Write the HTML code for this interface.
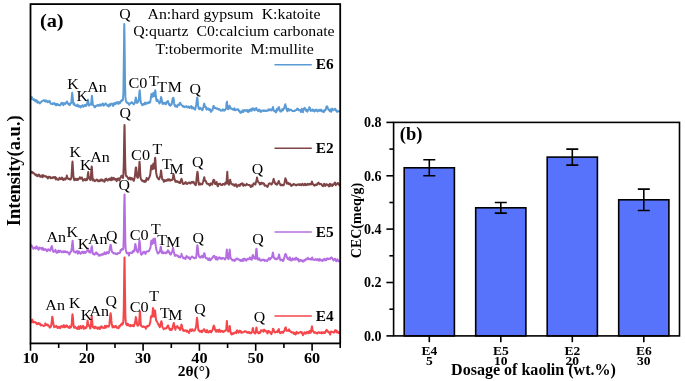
<!DOCTYPE html>
<html><head><meta charset="utf-8"><title>XRD and CEC</title>
<style>
html,body{margin:0;padding:0;background:#fff;}
body{width:685px;height:381px;overflow:hidden;}
svg{display:block;}
text{font-family:"Liberation Serif","Times New Roman",serif;fill:#000;}
.b{font-weight:bold;}
.pk{font-size:14.7px;}
.an{font-size:13.8px;text-anchor:middle;white-space:pre;}
.lg{font-size:13.7px;font-weight:bold;}
.tk{font-size:14.5px;font-weight:bold;text-anchor:middle;}
.tkb{font-size:14px;font-weight:bold;text-anchor:end;}
.cat{font-size:13.5px;font-weight:bold;text-anchor:middle;}
</style></head><body>
<svg width="685" height="381" viewBox="0 0 685 381">
<rect x="0" y="0" width="685" height="381" fill="#fff"/>
<polyline points="30.6,100.0 31.0,98.9 31.4,97.9 31.8,97.1 32.2,98.4 32.6,98.9 33.0,99.1 33.4,99.9 33.8,100.1 34.2,99.4 34.6,99.6 35.0,100.3 35.4,101.4 35.8,101.3 36.2,100.1 36.6,100.3 37.0,101.9 37.4,102.6 37.8,101.7 38.2,101.5 38.6,102.4 39.0,102.2 39.4,102.9 39.8,103.5 40.2,103.0 40.6,102.5 41.0,102.4 41.4,101.6 41.8,101.3 42.2,101.0 42.6,100.9 43.0,100.6 43.4,100.5 43.8,100.2 44.2,100.2 44.3,100.2 44.6,100.8 45.0,101.3 45.4,100.5 45.8,101.6 46.2,101.2 46.6,100.5 47.0,101.2 47.4,101.9 47.8,102.3 48.2,101.5 48.6,101.9 49.0,101.8 49.4,100.8 49.8,101.3 50.2,102.8 50.6,103.5 51.0,103.9 51.4,103.8 51.8,103.7 52.2,103.9 52.6,104.3 53.0,103.4 53.4,103.6 53.8,103.7 54.2,103.1 54.6,104.2 55.0,103.6 55.4,104.2 55.8,105.2 56.2,103.9 56.6,104.1 57.0,105.1 57.4,104.0 57.8,104.1 58.2,104.8 58.6,105.0 59.0,105.0 59.4,105.0 59.8,105.5 60.2,105.4 60.6,104.7 61.0,103.7 61.4,103.1 61.8,102.8 62.2,103.6 62.6,103.1 63.0,104.5 63.4,105.1 63.8,103.5 64.2,103.1 64.6,103.7 65.0,104.2 65.4,103.4 65.8,103.2 66.2,102.4 66.6,102.0 66.8,102.4 67.0,101.5 67.4,102.5 67.8,103.7 68.2,104.0 68.6,103.5 69.0,104.6 69.4,104.9 69.8,104.9 70.2,104.2 70.6,103.0 71.0,103.1 71.4,102.2 71.8,97.4 72.2,92.8 72.3,93.9 72.6,96.3 73.0,100.9 73.4,104.2 73.8,103.1 74.2,103.2 74.6,105.0 75.0,105.2 75.4,105.6 75.8,105.7 76.2,105.6 76.6,105.9 77.0,105.4 77.4,104.6 77.8,105.4 78.2,106.3 78.6,106.8 79.0,105.6 79.4,105.8 79.8,105.9 80.2,106.5 80.6,107.5 81.0,106.8 81.4,106.0 81.8,106.3 82.2,106.3 82.6,105.3 83.0,105.7 83.4,106.8 83.8,106.5 84.2,105.6 84.6,105.2 85.0,105.0 85.4,104.7 85.8,105.9 86.2,105.9 86.6,105.1 87.0,103.7 87.4,101.9 87.8,100.0 87.9,99.7 88.2,100.8 88.6,104.3 89.0,105.6 89.4,105.0 89.8,104.7 90.2,104.5 90.6,104.5 91.0,104.7 91.4,101.5 91.8,97.0 91.9,95.8 92.2,97.8 92.6,102.8 93.0,105.0 93.4,105.5 93.8,105.4 94.2,106.3 94.6,107.3 95.0,107.3 95.4,106.9 95.8,106.0 96.2,105.9 96.6,105.5 97.0,105.8 97.4,105.3 97.8,104.9 98.2,105.1 98.6,105.8 99.0,105.8 99.4,105.3 99.8,104.6 100.2,104.7 100.6,104.5 101.0,105.6 101.4,105.2 101.8,105.0 102.2,104.5 102.6,103.5 103.0,103.6 103.4,104.9 103.8,105.7 104.2,104.5 104.6,104.4 105.0,104.5 105.4,103.6 105.8,103.4 106.2,104.3 106.6,104.7 107.0,105.0 107.4,105.8 107.8,105.2 108.2,105.5 108.6,106.5 109.0,106.1 109.4,104.3 109.8,104.7 110.2,105.5 110.6,104.3 111.0,103.9 111.4,103.7 111.8,103.6 112.2,103.9 112.6,105.0 113.0,105.9 113.4,105.8 113.8,104.3 114.2,103.0 114.6,103.6 115.0,103.9 115.4,104.1 115.8,103.5 116.2,102.6 116.6,103.1 117.0,102.1 117.4,102.6 117.8,103.4 118.2,103.8 118.6,103.7 119.0,101.9 119.4,102.8 119.8,103.2 120.2,102.4 120.6,101.9 121.0,100.8 121.4,101.1 121.6,101.0 121.8,100.0 122.2,100.0 122.6,100.2 123.0,99.3 123.4,92.7 123.8,64.4 124.2,26.8 124.3,24.1 124.6,42.5 125.0,81.2 125.4,96.9 125.8,100.2 126.2,101.5 126.6,102.4 127.0,102.4 127.4,103.0 127.8,103.3 128.2,103.0 128.6,103.5 129.0,104.8 129.4,104.8 129.8,103.4 130.2,103.3 130.6,103.2 131.0,103.1 131.4,103.1 131.8,102.1 131.9,102.4 132.2,102.9 132.6,102.8 133.0,103.3 133.4,104.0 133.8,104.4 134.2,103.8 134.6,103.2 135.0,101.8 135.4,99.6 135.6,98.3 135.8,97.5 136.2,99.3 136.6,102.4 137.0,103.0 137.4,102.2 137.8,102.1 138.2,101.8 138.6,100.3 139.0,97.8 139.4,92.2 139.7,90.3 139.8,91.3 140.2,96.0 140.6,101.1 141.0,103.2 141.4,103.5 141.8,104.1 142.2,105.1 142.6,104.6 143.0,104.9 143.4,104.1 143.8,104.5 144.2,104.3 144.6,103.1 145.0,102.5 145.4,104.2 145.8,103.2 146.2,102.9 146.6,103.5 147.0,103.6 147.4,103.5 147.8,102.8 148.2,102.2 148.6,102.9 149.0,102.3 149.4,102.4 149.8,102.6 150.2,102.1 150.6,99.7 151.0,96.6 151.3,94.8 151.4,93.9 151.8,95.8 152.2,96.9 152.6,96.1 153.0,94.0 153.3,93.0 153.4,94.3 153.8,96.5 154.2,96.2 154.6,94.8 155.0,91.1 155.3,90.4 155.4,91.0 155.8,95.3 156.2,99.2 156.6,101.0 157.0,100.6 157.4,99.7 157.8,100.5 158.2,101.4 158.6,101.8 159.0,102.2 159.4,103.5 159.8,102.9 160.2,102.1 160.6,99.7 161.0,98.3 161.1,97.1 161.4,98.2 161.8,100.1 162.2,102.8 162.6,104.0 163.0,102.6 163.4,102.7 163.8,103.5 164.2,103.2 164.6,102.8 165.0,103.9 165.4,104.0 165.8,104.3 166.2,103.4 166.6,102.1 167.0,102.1 167.4,102.3 167.8,100.9 168.2,101.6 168.6,103.4 169.0,104.7 169.4,104.6 169.8,104.2 170.2,105.8 170.6,105.3 171.0,105.0 171.4,104.8 171.8,103.6 172.2,101.2 172.6,99.0 173.0,97.9 173.4,97.8 173.8,100.1 174.2,103.7 174.6,105.3 175.0,106.1 175.4,106.5 175.8,105.4 176.2,105.7 176.6,106.4 177.0,106.9 177.4,106.6 177.8,105.2 178.2,104.6 178.6,104.7 179.0,104.4 179.4,104.9 179.8,103.7 180.2,102.7 180.3,102.8 180.6,104.1 181.0,104.4 181.4,104.6 181.8,105.4 182.2,105.6 182.6,106.2 183.0,106.7 183.4,106.1 183.8,106.4 184.2,106.8 184.6,107.2 185.0,107.0 185.4,106.5 185.8,106.2 186.2,106.5 186.6,106.3 187.0,107.2 187.4,107.4 187.8,107.4 188.2,106.8 188.6,106.5 189.0,106.9 189.4,108.0 189.8,107.7 190.2,107.1 190.6,106.6 191.0,106.8 191.4,106.1 191.8,108.3 192.2,108.5 192.6,108.0 193.0,107.3 193.4,107.6 193.8,108.7 194.2,108.7 194.6,109.2 195.0,109.7 195.4,108.8 195.8,106.6 196.2,104.9 196.6,102.0 197.0,98.8 197.2,97.5 197.4,98.1 197.8,102.2 198.2,105.9 198.6,108.2 199.0,108.9 199.4,109.3 199.8,107.7 200.2,107.7 200.6,108.8 201.0,108.7 201.4,108.5 201.8,109.6 202.2,110.2 202.6,109.9 203.0,108.4 203.4,106.9 203.8,104.9 204.2,103.6 204.6,105.0 205.0,106.3 205.4,107.2 205.8,106.8 206.2,108.6 206.6,109.7 207.0,109.2 207.4,109.2 207.8,108.3 208.2,108.5 208.6,108.7 209.0,109.9 209.4,110.2 209.8,109.2 210.2,109.3 210.6,110.4 211.0,111.9 211.4,111.0 211.8,110.6 212.2,110.5 212.6,109.7 213.0,108.0 213.4,106.0 213.8,105.9 214.2,107.6 214.6,108.0 215.0,107.9 215.4,107.7 215.8,108.5 216.2,108.6 216.6,108.5 217.0,109.0 217.4,108.4 217.8,108.6 218.2,109.4 218.6,109.5 219.0,109.8 219.4,109.3 219.8,109.2 220.2,109.9 220.6,110.3 221.0,110.8 221.4,110.5 221.8,110.2 222.2,110.5 222.6,110.3 223.0,109.4 223.4,109.6 223.8,110.0 224.2,110.6 224.6,110.1 225.0,110.1 225.4,109.1 225.8,109.0 226.2,107.4 226.6,103.2 226.8,102.4 227.0,101.8 227.4,106.3 227.8,109.1 228.2,109.2 228.6,108.6 229.0,108.2 229.4,105.7 229.7,106.1 229.8,106.6 230.2,108.2 230.6,108.6 231.0,108.2 231.4,108.4 231.8,108.7 232.2,109.2 232.6,109.0 233.0,109.3 233.4,109.8 233.8,109.9 234.2,108.3 234.6,109.0 235.0,110.2 235.4,110.2 235.8,109.5 236.2,109.5 236.6,109.7 237.0,109.8 237.4,109.4 237.8,109.2 238.2,109.2 238.6,110.2 239.0,111.2 239.4,110.7 239.8,111.8 240.2,112.6 240.6,112.2 241.0,112.7 241.4,111.9 241.8,112.1 242.2,111.1 242.6,110.2 243.0,111.3 243.4,112.0 243.8,110.9 244.2,110.7 244.6,109.9 245.0,109.9 245.4,110.6 245.8,110.6 246.2,111.1 246.6,111.3 247.0,109.9 247.4,109.9 247.8,111.0 248.2,112.1 248.6,110.7 249.0,110.1 249.4,110.8 249.8,111.3 250.2,109.7 250.6,109.2 251.0,109.5 251.4,110.3 251.8,110.7 252.2,108.7 252.6,108.2 253.0,109.5 253.4,109.7 253.8,108.4 254.2,109.3 254.6,110.4 255.0,109.9 255.4,109.7 255.8,108.8 256.2,108.1 256.3,108.0 256.6,108.6 257.0,110.0 257.4,110.1 257.8,110.6 258.2,111.1 258.6,110.2 259.0,109.8 259.4,109.5 259.8,110.0 260.2,111.6 260.6,111.6 261.0,111.9 261.4,111.4 261.8,110.6 262.2,110.4 262.6,110.6 263.0,110.7 263.4,110.9 263.8,110.2 264.2,110.6 264.6,110.9 265.0,110.5 265.4,110.5 265.8,111.1 266.2,111.1 266.6,110.7 267.0,110.5 267.4,110.4 267.8,110.8 268.2,110.1 268.6,109.2 269.0,109.7 269.4,110.3 269.8,109.9 270.2,109.3 270.6,110.0 271.0,110.2 271.4,110.4 271.8,110.4 272.2,109.1 272.6,108.0 273.0,107.0 273.1,107.9 273.4,108.9 273.8,110.1 274.2,111.0 274.6,110.8 275.0,111.2 275.4,111.0 275.8,112.5 276.2,111.9 276.6,109.5 277.0,108.8 277.4,110.5 277.8,109.8 278.2,109.0 278.6,107.2 278.9,107.1 279.0,107.4 279.4,108.9 279.8,110.2 280.2,111.3 280.6,110.9 281.0,111.6 281.4,111.2 281.8,110.8 282.2,109.3 282.6,109.2 283.0,110.3 283.4,109.3 283.8,108.9 284.2,108.0 284.6,106.6 285.0,105.4 285.3,104.2 285.4,104.6 285.8,106.7 286.2,107.8 286.6,109.5 287.0,110.5 287.4,111.1 287.8,110.2 288.2,108.7 288.6,109.0 289.0,109.7 289.4,110.5 289.8,110.1 290.2,109.5 290.6,109.8 291.0,109.7 291.4,110.2 291.8,110.5 292.2,111.0 292.6,111.0 293.0,111.2 293.4,110.9 293.8,111.0 294.2,110.8 294.6,111.0 295.0,110.7 295.4,110.3 295.8,109.9 296.2,110.0 296.6,109.8 297.0,108.8 297.4,109.7 297.8,108.6 298.2,109.2 298.6,109.8 299.0,110.4 299.4,110.3 299.8,110.0 300.2,110.3 300.6,111.2 301.0,111.9 301.4,110.4 301.8,108.7 302.2,109.5 302.6,111.1 303.0,112.2 303.4,109.8 303.8,108.6 304.2,108.5 304.3,108.1 304.6,107.8 305.0,109.3 305.4,109.1 305.8,110.0 306.2,110.9 306.6,109.8 307.0,110.5 307.4,111.7 307.8,110.7 308.2,109.6 308.6,109.3 309.0,108.8 309.3,107.3 309.4,107.2 309.8,107.7 310.2,109.2 310.6,111.0 311.0,110.7 311.4,110.3 311.8,110.4 312.2,109.7 312.6,109.5 313.0,110.9 313.4,110.8 313.8,109.9 314.2,110.8 314.6,111.5 315.0,111.1 315.4,110.5 315.8,109.7 316.2,109.7 316.6,109.6 317.0,110.9 317.4,111.1 317.8,111.4 318.2,110.7 318.6,110.7 319.0,109.7 319.4,110.1 319.8,110.8 320.2,110.7 320.6,110.0 321.0,109.5 321.4,111.0 321.8,111.3 322.2,111.5 322.6,111.4 323.0,110.6 323.4,111.3 323.8,112.1 324.2,110.5 324.6,110.1 325.0,109.9 325.4,110.4 325.8,109.0 326.2,107.5 326.3,107.3 326.6,106.7 327.0,106.3 327.4,106.7 327.8,108.3 328.2,109.1 328.6,109.8 329.0,109.8 329.4,110.6 329.8,111.3 330.2,109.6 330.6,109.3 331.0,111.0 331.4,111.6 331.8,109.5 332.2,108.6 332.6,109.3 333.0,109.8 333.4,110.1 333.8,109.4 334.2,109.5 334.6,109.5 335.0,108.7 335.4,109.0 335.8,110.5 336.2,110.8 336.6,110.6 337.0,111.8 337.4,111.9 337.8,111.4 338.2,111.3 338.6,111.2 339.0,111.3 339.4,111.2 339.8,110.6" fill="none" stroke="#5B9BD5" stroke-width="2" stroke-linejoin="round"/>
<polyline points="30.6,172.0 31.0,171.6 31.4,172.7 31.8,172.5 32.2,172.0 32.6,172.2 33.0,173.1 33.4,172.8 33.8,173.5 34.2,173.5 34.6,173.9 35.0,174.3 35.4,175.1 35.8,175.2 36.2,174.6 36.6,175.6 37.0,175.9 37.4,176.2 37.8,175.9 38.2,174.9 38.6,175.8 39.0,174.6 39.4,174.9 39.8,176.1 40.2,176.8 40.6,176.8 41.0,176.6 41.4,176.4 41.8,175.6 42.2,176.5 42.6,177.3 43.0,175.0 43.4,175.5 43.8,175.9 44.2,175.7 44.6,176.1 45.0,176.4 45.4,176.4 45.8,176.4 46.2,176.3 46.6,177.1 47.0,176.7 47.4,177.0 47.8,178.6 48.2,177.7 48.6,177.0 49.0,176.6 49.4,177.5 49.8,177.0 50.2,177.2 50.6,178.2 51.0,178.1 51.4,177.5 51.8,178.1 52.2,178.2 52.6,177.7 53.0,177.3 53.4,177.6 53.8,177.0 54.2,177.8 54.6,177.8 55.0,177.0 55.4,177.8 55.8,179.4 56.2,177.8 56.6,178.3 57.0,178.9 57.4,179.4 57.8,179.6 58.2,179.9 58.6,179.7 59.0,178.8 59.4,177.8 59.8,178.3 60.2,179.0 60.6,179.2 61.0,179.2 61.4,178.2 61.8,177.5 62.2,177.9 62.6,178.9 63.0,179.7 63.4,180.0 63.8,179.6 64.2,178.5 64.6,178.8 65.0,179.6 65.4,179.6 65.8,179.1 66.2,177.7 66.6,177.1 66.8,175.5 67.0,176.4 67.4,177.6 67.8,178.1 68.2,178.9 68.6,178.7 69.0,178.9 69.4,179.2 69.8,178.9 70.2,179.6 70.6,178.9 71.0,178.9 71.4,177.3 71.8,172.2 72.2,164.6 72.5,161.6 72.6,162.2 73.0,169.9 73.4,175.4 73.8,178.5 74.2,180.1 74.6,180.3 75.0,180.0 75.4,178.7 75.8,179.0 76.2,179.6 76.6,179.9 77.0,178.8 77.4,179.1 77.8,180.0 78.2,179.4 78.6,178.8 79.0,178.7 79.4,178.8 79.8,177.3 80.2,177.4 80.6,178.0 81.0,178.6 81.4,178.3 81.8,177.5 82.2,178.4 82.6,179.2 83.0,180.8 83.4,180.0 83.8,179.9 84.2,179.3 84.6,179.1 85.0,179.2 85.4,180.3 85.8,180.4 86.2,179.1 86.6,179.7 87.0,180.0 87.4,178.6 87.8,174.5 88.1,173.1 88.2,172.1 88.6,175.4 89.0,177.6 89.4,178.4 89.8,179.4 90.2,179.8 90.6,180.0 91.0,175.4 91.4,168.4 91.7,166.5 91.8,166.6 92.2,172.6 92.6,178.8 93.0,180.4 93.4,179.2 93.8,179.7 94.2,180.7 94.6,180.4 95.0,181.2 95.4,180.7 95.8,180.6 96.2,180.3 96.6,179.6 97.0,179.9 97.4,179.8 97.8,180.3 98.2,181.3 98.6,181.1 99.0,180.5 99.4,180.7 99.8,181.2 100.2,180.2 100.6,179.8 101.0,180.2 101.4,179.4 101.8,179.5 102.2,180.9 102.6,180.0 103.0,180.3 103.4,180.6 103.8,180.6 104.2,181.8 104.6,181.8 105.0,180.2 105.4,178.9 105.8,179.1 106.2,178.5 106.6,179.7 107.0,180.3 107.4,180.2 107.8,180.6 108.2,179.9 108.6,179.0 109.0,179.4 109.4,179.8 109.8,178.5 110.2,178.9 110.6,179.2 111.0,180.3 111.4,178.3 111.8,177.6 112.2,179.5 112.6,179.8 113.0,178.7 113.4,178.4 113.8,177.9 114.2,178.7 114.6,179.5 115.0,179.4 115.4,179.0 115.8,179.0 116.2,180.3 116.6,181.1 117.0,180.4 117.4,178.7 117.8,178.7 118.2,178.4 118.6,178.5 119.0,179.5 119.4,180.6 119.8,179.2 120.2,178.0 120.6,177.4 121.0,177.0 121.4,175.8 121.6,176.8 121.8,176.9 122.2,176.3 122.6,177.8 123.0,177.9 123.4,174.2 123.8,163.8 124.2,137.6 124.5,125.0 124.6,127.5 125.0,152.1 125.4,169.4 125.8,174.4 126.2,176.3 126.6,176.1 127.0,176.3 127.4,177.2 127.8,177.6 128.2,178.7 128.6,179.3 129.0,178.1 129.4,178.6 129.8,177.5 130.2,178.1 130.6,179.4 131.0,179.6 131.4,177.9 131.8,178.9 132.2,178.6 132.6,178.5 133.0,179.3 133.4,180.5 133.8,180.9 134.2,179.4 134.6,177.8 135.0,175.6 135.4,171.0 135.8,167.4 136.0,167.9 136.2,167.6 136.6,171.8 137.0,176.2 137.4,177.8 137.8,177.8 138.2,177.1 138.6,175.0 139.0,169.6 139.4,162.7 139.5,161.7 139.8,164.5 140.2,173.0 140.6,178.0 141.0,179.1 141.4,179.6 141.8,180.7 142.2,180.6 142.6,180.6 143.0,181.2 143.4,181.1 143.8,180.9 144.2,182.0 144.6,181.5 145.0,180.9 145.4,181.4 145.8,181.7 146.2,180.1 146.6,178.1 147.0,178.4 147.4,179.3 147.8,179.6 148.2,179.8 148.6,178.7 149.0,177.6 149.4,177.2 149.8,176.0 150.2,174.9 150.6,171.4 151.0,167.9 151.3,165.5 151.4,165.5 151.8,167.7 152.2,169.3 152.6,169.1 153.0,165.5 153.3,163.7 153.4,164.0 153.8,167.7 154.2,168.4 154.6,164.1 155.0,158.8 155.2,157.8 155.4,160.0 155.8,167.4 156.2,172.9 156.6,175.1 157.0,176.7 157.4,177.6 157.8,178.1 158.2,178.5 158.6,179.1 159.0,179.4 159.4,178.5 159.8,176.9 160.2,176.5 160.6,174.6 161.0,170.4 161.1,170.8 161.4,172.6 161.8,177.0 162.2,179.1 162.6,179.6 163.0,179.7 163.4,179.7 163.8,181.8 164.2,181.5 164.6,180.3 165.0,180.4 165.4,180.9 165.8,180.3 166.2,180.1 166.6,180.8 167.0,180.3 167.4,180.0 167.8,179.8 167.9,179.2 168.2,180.3 168.6,180.4 169.0,179.2 169.4,179.2 169.8,180.3 170.2,180.6 170.6,180.1 171.0,180.2 171.4,180.2 171.8,180.0 172.2,180.0 172.6,179.4 173.0,176.9 173.4,173.9 173.8,175.1 174.2,177.4 174.6,179.2 175.0,180.3 175.4,181.7 175.8,181.6 176.2,181.1 176.6,181.8 177.0,181.2 177.4,181.7 177.8,182.2 178.2,181.7 178.6,181.7 179.0,182.5 179.4,182.9 179.8,182.6 180.2,183.0 180.6,181.6 181.0,179.6 181.4,179.1 181.5,178.9 181.8,179.7 182.2,181.2 182.6,182.7 183.0,184.0 183.4,183.9 183.8,184.0 184.2,183.5 184.6,182.8 185.0,183.4 185.4,183.3 185.8,182.1 186.2,183.3 186.6,183.9 187.0,184.0 187.4,183.7 187.8,183.6 188.2,182.9 188.6,182.6 189.0,182.8 189.4,182.5 189.8,183.2 190.2,182.7 190.6,183.4 191.0,182.7 191.4,182.1 191.8,182.0 192.2,182.5 192.6,182.7 193.0,181.7 193.4,181.7 193.8,182.7 194.2,182.7 194.6,184.1 195.0,184.6 195.4,184.3 195.8,185.2 196.2,182.2 196.6,178.1 197.0,174.9 197.4,171.7 197.8,173.5 198.2,178.7 198.6,183.2 199.0,184.8 199.4,184.1 199.8,183.3 200.2,183.7 200.6,184.5 201.0,184.2 201.4,184.1 201.8,184.2 202.2,184.3 202.6,183.1 203.0,182.0 203.4,180.4 203.8,179.4 204.2,177.3 204.4,177.5 204.6,178.4 205.0,180.0 205.4,181.2 205.8,181.0 206.2,182.2 206.6,183.2 207.0,183.6 207.4,183.8 207.8,183.6 208.2,184.2 208.6,183.9 209.0,184.1 209.4,185.2 209.8,185.6 210.2,184.9 210.6,183.5 211.0,183.4 211.4,183.4 211.8,183.9 212.2,184.6 212.6,183.4 213.0,181.0 213.4,180.2 213.8,179.7 214.2,180.0 214.6,181.8 215.0,183.9 215.4,184.1 215.8,184.0 216.2,183.3 216.6,182.0 217.0,183.8 217.4,185.4 217.8,186.3 218.2,186.0 218.6,184.0 219.0,183.8 219.4,183.9 219.8,184.0 220.2,183.6 220.6,184.3 221.0,184.9 221.4,184.9 221.8,184.9 222.2,185.0 222.6,184.2 223.0,183.9 223.4,184.0 223.8,184.0 224.2,184.5 224.6,184.8 225.0,183.9 225.4,182.6 225.8,182.7 226.2,183.6 226.6,181.7 227.0,175.6 227.3,171.8 227.4,174.1 227.8,180.8 228.2,183.5 228.6,184.3 229.0,184.7 229.4,182.7 229.8,180.3 230.1,180.2 230.2,179.7 230.6,182.1 231.0,183.4 231.4,183.7 231.8,183.8 232.2,184.6 232.6,184.7 233.0,184.5 233.4,184.3 233.8,184.6 234.2,185.6 234.6,185.9 235.0,185.5 235.4,184.4 235.8,184.6 236.2,184.3 236.6,186.1 237.0,186.9 237.4,186.5 237.8,185.8 238.2,185.5 238.6,184.9 239.0,184.7 239.4,185.7 239.8,185.9 240.2,184.8 240.6,184.0 241.0,184.3 241.4,184.5 241.8,184.0 242.2,183.2 242.6,183.5 243.0,185.1 243.4,185.9 243.8,184.4 244.2,184.6 244.6,184.8 245.0,185.0 245.4,185.1 245.8,185.4 246.2,184.6 246.6,183.9 247.0,184.2 247.4,184.5 247.8,184.9 248.2,185.0 248.6,185.1 249.0,184.9 249.4,184.9 249.8,185.2 250.2,185.9 250.6,186.9 251.0,186.9 251.4,185.6 251.8,185.3 252.2,185.8 252.6,186.2 253.0,184.8 253.4,184.1 253.8,183.2 254.2,184.0 254.6,183.9 255.0,184.3 255.4,184.5 255.8,182.8 256.2,181.4 256.6,180.3 257.0,177.5 257.1,177.9 257.4,179.7 257.8,181.2 258.2,182.0 258.6,182.5 259.0,182.4 259.4,183.3 259.8,184.5 260.2,183.5 260.6,183.0 261.0,184.1 261.4,183.9 261.8,182.6 262.2,183.2 262.6,183.5 263.0,183.7 263.4,183.3 263.8,183.2 264.2,183.8 264.6,185.7 265.0,185.6 265.4,185.5 265.8,185.6 266.2,185.5 266.6,186.0 267.0,186.2 267.4,186.9 267.8,186.3 268.2,185.7 268.6,183.9 269.0,183.8 269.4,183.7 269.8,183.2 270.2,183.6 270.6,183.7 271.0,183.6 271.4,184.5 271.8,184.1 272.2,183.7 272.6,182.6 273.0,181.5 273.4,179.4 273.7,178.9 273.8,180.0 274.2,181.3 274.6,182.0 275.0,182.9 275.4,183.9 275.8,183.3 276.2,183.6 276.6,184.7 277.0,184.7 277.4,183.8 277.8,183.3 278.2,182.5 278.6,181.1 278.9,181.0 279.0,181.9 279.4,182.8 279.8,183.8 280.2,184.5 280.6,185.2 281.0,184.9 281.4,185.1 281.8,184.5 282.2,185.0 282.6,185.4 283.0,185.1 283.4,185.3 283.8,184.8 284.2,183.8 284.6,182.6 285.0,180.2 285.4,178.2 285.5,178.4 285.8,179.1 286.2,179.9 286.6,181.7 287.0,183.7 287.4,183.5 287.8,183.2 288.2,182.7 288.6,183.8 289.0,184.2 289.4,183.7 289.8,184.1 290.2,183.7 290.6,184.3 291.0,185.6 291.4,185.9 291.8,185.2 292.2,185.3 292.6,184.8 293.0,184.9 293.4,184.0 293.8,184.7 294.2,184.6 294.6,184.2 295.0,184.6 295.4,184.8 295.8,185.2 296.2,185.5 296.6,184.8 297.0,184.6 297.4,184.9 297.8,184.8 298.2,184.6 298.6,184.2 299.0,184.8 299.4,184.3 299.8,185.0 300.2,185.0 300.6,184.2 301.0,184.9 301.4,185.3 301.8,184.5 302.2,184.2 302.6,183.9 303.0,184.6 303.4,184.8 303.8,185.3 304.2,185.0 304.6,184.1 305.0,183.7 305.4,184.8 305.8,185.1 306.2,184.5 306.6,185.0 307.0,184.8 307.4,184.1 307.8,183.8 308.2,184.4 308.6,184.8 309.0,184.0 309.4,184.1 309.8,184.2 310.2,183.8 310.6,183.7 311.0,184.4 311.4,184.1 311.8,182.3 312.0,181.6 312.2,182.4 312.6,183.5 313.0,184.4 313.4,184.5 313.8,185.3 314.2,185.2 314.6,185.7 315.0,185.1 315.4,184.5 315.8,184.6 316.2,185.0 316.6,185.1 317.0,184.8 317.4,183.4 317.8,183.3 318.2,183.3 318.6,182.6 319.0,183.5 319.4,184.3 319.8,184.0 320.2,184.1 320.6,184.1 321.0,184.1 321.4,184.1 321.8,185.3 322.2,185.5 322.6,185.5 323.0,186.3 323.4,185.7 323.8,184.7 324.2,183.7 324.6,184.3 325.0,185.7 325.4,186.0 325.8,184.8 326.2,184.8 326.3,184.2 326.6,184.2 327.0,184.4 327.4,184.8 327.8,185.2 328.2,185.5 328.6,185.2 329.0,186.4 329.4,185.7 329.8,183.7 330.2,184.0 330.6,185.7 331.0,184.6 331.4,184.5 331.8,184.7 332.2,186.0 332.6,184.5 333.0,185.3 333.4,184.9 333.8,184.0 334.2,183.6 334.6,182.9 335.0,182.5 335.4,184.2 335.8,185.2 336.2,184.2 336.6,184.3 337.0,184.3 337.4,183.1 337.8,183.0 338.2,183.1 338.6,184.1 339.0,184.1 339.4,185.4 339.8,185.4" fill="none" stroke="#7F4446" stroke-width="2" stroke-linejoin="round"/>
<polyline points="30.6,246.1 31.0,245.2 31.4,245.3 31.8,246.1 32.2,246.8 32.6,247.3 33.0,247.7 33.4,248.8 33.8,248.1 34.2,248.0 34.6,247.7 35.0,247.5 35.4,248.1 35.8,248.6 36.2,247.2 36.6,246.3 37.0,247.4 37.4,248.5 37.8,248.1 38.2,248.9 38.6,249.8 39.0,248.9 39.4,247.5 39.8,248.3 40.2,248.3 40.6,248.2 41.0,248.0 41.4,248.9 41.8,249.4 42.2,248.5 42.6,247.7 43.0,248.4 43.4,250.1 43.8,249.5 44.2,249.1 44.6,249.8 45.0,249.4 45.4,249.2 45.8,249.3 46.2,250.1 46.6,250.6 47.0,251.2 47.4,250.4 47.8,249.6 48.2,249.4 48.6,250.1 49.0,249.7 49.4,249.8 49.8,250.1 50.2,250.8 50.6,249.3 51.0,248.0 51.4,247.3 51.8,246.0 51.9,246.1 52.2,247.5 52.6,249.5 53.0,251.0 53.4,251.9 53.8,251.2 54.2,251.6 54.6,251.2 55.0,251.0 55.4,249.8 55.8,250.9 56.2,252.3 56.6,252.7 57.0,251.8 57.4,251.2 57.8,252.4 58.2,252.4 58.6,250.6 59.0,251.2 59.4,251.9 59.8,251.5 60.2,250.7 60.6,251.4 61.0,251.6 61.4,251.5 61.8,252.2 62.2,252.1 62.6,251.6 63.0,252.0 63.4,251.4 63.8,252.2 64.2,251.4 64.6,251.9 65.0,251.2 65.4,252.0 65.8,252.3 66.2,251.9 66.6,252.2 67.0,251.7 67.4,251.9 67.8,252.5 68.2,252.8 68.6,253.0 69.0,253.6 69.4,254.5 69.8,253.4 70.2,252.3 70.6,251.9 71.0,251.6 71.4,250.6 71.8,247.7 72.2,244.1 72.5,241.5 72.6,240.7 73.0,245.0 73.4,250.2 73.8,251.8 74.2,251.5 74.6,251.4 75.0,251.8 75.4,252.6 75.8,252.2 76.2,251.7 76.6,252.2 77.0,251.0 77.4,252.0 77.8,253.7 78.2,253.0 78.6,251.2 79.0,251.5 79.4,252.1 79.8,253.2 80.2,253.4 80.6,253.8 81.0,253.5 81.4,252.9 81.8,251.9 82.2,251.8 82.6,251.7 83.0,251.7 83.4,253.2 83.8,252.7 84.2,251.7 84.6,252.7 85.0,252.6 85.4,253.0 85.8,252.4 86.2,251.8 86.6,251.5 87.0,251.0 87.4,250.0 87.8,248.4 87.9,249.1 88.2,249.5 88.6,251.2 89.0,252.0 89.4,251.1 89.8,251.4 90.2,252.8 90.6,251.2 91.0,250.0 91.4,248.0 91.7,246.7 91.8,246.2 92.2,249.1 92.6,253.0 93.0,253.9 93.4,253.4 93.8,253.5 94.2,254.3 94.6,254.6 95.0,253.8 95.4,253.7 95.8,253.4 96.2,252.4 96.6,253.9 97.0,253.1 97.4,253.4 97.8,254.1 98.2,254.2 98.6,255.3 99.0,255.8 99.4,254.9 99.8,255.0 100.2,255.3 100.6,255.4 101.0,254.7 101.4,254.3 101.8,254.2 102.2,254.6 102.6,254.8 103.0,253.9 103.4,254.4 103.8,254.1 104.2,253.4 104.6,252.4 105.0,253.0 105.4,254.0 105.8,253.7 106.2,254.0 106.6,252.6 107.0,252.0 107.4,252.6 107.8,252.3 108.2,253.0 108.6,253.4 109.0,252.6 109.4,251.0 109.8,248.4 110.2,246.2 110.6,244.7 111.0,245.9 111.4,248.7 111.8,250.7 112.2,252.1 112.6,252.5 113.0,252.7 113.4,253.2 113.8,253.6 114.2,253.5 114.6,253.2 115.0,253.2 115.4,253.7 115.8,253.6 116.2,254.0 116.6,254.1 117.0,254.3 117.4,253.3 117.8,253.0 118.2,253.3 118.6,253.3 119.0,252.9 119.4,252.9 119.8,252.9 120.2,251.7 120.6,250.1 121.0,249.8 121.4,250.4 121.6,249.3 121.8,249.0 122.2,249.1 122.6,249.2 123.0,249.5 123.4,248.0 123.8,236.1 124.2,207.8 124.5,194.5 124.6,196.4 125.0,223.3 125.4,244.9 125.8,249.7 126.2,251.5 126.6,253.0 127.0,253.2 127.4,253.3 127.8,252.9 128.2,252.7 128.6,254.6 129.0,255.5 129.4,253.8 129.8,252.9 130.2,252.7 130.6,252.6 131.0,252.7 131.4,253.0 131.8,252.5 132.2,253.0 132.6,251.7 133.0,250.9 133.4,251.4 133.8,251.7 134.2,251.0 134.6,249.3 135.0,246.0 135.4,244.0 135.8,245.9 136.2,248.6 136.6,250.6 137.0,251.3 137.4,251.3 137.8,252.5 138.2,250.8 138.6,249.3 139.0,245.2 139.4,240.4 139.5,240.6 139.8,242.6 140.2,248.0 140.6,252.1 141.0,254.0 141.4,254.6 141.8,254.0 142.2,254.2 142.6,253.7 143.0,252.5 143.4,251.9 143.8,252.5 144.2,252.2 144.6,251.7 145.0,253.1 145.4,253.9 145.8,253.3 146.2,252.0 146.6,251.5 147.0,251.2 147.4,251.6 147.8,251.5 148.2,251.1 148.6,250.9 149.0,251.1 149.4,250.1 149.8,249.0 150.2,248.3 150.6,246.9 151.0,242.8 151.3,241.0 151.4,240.6 151.8,243.0 152.2,244.0 152.6,242.7 153.0,241.0 153.3,238.9 153.4,239.2 153.8,242.6 154.2,243.0 154.6,239.8 154.9,238.5 155.0,238.8 155.4,242.8 155.8,246.4 156.2,248.5 156.6,250.5 157.0,251.0 157.4,252.5 157.8,253.4 158.2,253.4 158.6,253.1 159.0,252.3 159.4,252.1 159.8,251.5 160.2,249.8 160.6,247.8 160.8,246.7 161.0,248.0 161.4,251.1 161.8,252.9 162.2,253.1 162.6,251.5 163.0,252.5 163.4,253.2 163.8,253.1 164.2,252.9 164.6,252.6 165.0,252.5 165.4,252.9 165.8,253.3 166.2,252.3 166.6,252.4 167.0,252.7 167.4,251.6 167.8,250.8 167.9,250.2 168.2,250.8 168.6,251.9 169.0,251.5 169.4,252.6 169.8,254.0 170.2,254.3 170.6,254.5 171.0,254.3 171.4,252.8 171.8,252.4 172.2,252.1 172.6,249.8 173.0,247.7 173.2,248.5 173.4,249.6 173.8,251.8 174.2,253.4 174.6,254.6 175.0,255.9 175.4,255.3 175.8,254.9 176.2,255.1 176.6,255.4 177.0,255.6 177.4,255.8 177.8,255.6 178.2,256.3 178.6,257.0 179.0,256.9 179.4,256.5 179.8,256.7 180.2,257.4 180.6,256.6 181.0,256.4 181.4,255.6 181.5,253.8 181.8,255.1 182.2,256.0 182.6,256.4 183.0,257.8 183.4,258.3 183.8,258.3 184.2,258.3 184.6,257.8 185.0,258.1 185.4,259.0 185.8,258.2 186.2,256.8 186.6,256.0 187.0,256.6 187.4,256.6 187.8,257.1 188.2,257.9 188.6,257.5 189.0,257.3 189.4,257.8 189.8,259.2 190.2,259.1 190.6,257.9 191.0,257.4 191.4,257.4 191.8,256.6 192.2,256.5 192.6,257.2 193.0,257.3 193.4,257.5 193.8,258.0 194.2,258.3 194.6,258.4 195.0,257.8 195.4,258.0 195.8,258.1 196.2,257.1 196.6,253.6 197.0,248.3 197.4,245.2 197.8,247.9 198.2,251.7 198.6,255.0 199.0,256.4 199.4,256.5 199.8,257.3 200.2,257.6 200.6,256.9 201.0,257.1 201.4,256.9 201.8,255.9 202.2,256.6 202.6,257.5 203.0,257.4 203.4,256.7 203.8,254.4 204.2,253.2 204.3,253.1 204.6,253.8 205.0,255.6 205.4,257.3 205.8,258.2 206.2,258.3 206.6,258.1 207.0,258.4 207.4,258.2 207.8,258.8 208.2,260.0 208.6,260.1 209.0,259.1 209.4,258.2 209.8,259.2 210.2,260.3 210.6,259.9 211.0,259.5 211.4,259.1 211.8,258.6 212.2,257.9 212.6,257.6 213.0,256.7 213.4,256.3 213.8,255.9 214.2,255.8 214.6,256.4 215.0,257.4 215.4,258.5 215.8,259.3 216.2,258.5 216.6,256.9 217.0,258.1 217.4,259.7 217.8,259.0 218.2,258.7 218.6,258.5 219.0,257.6 219.4,257.3 219.8,258.3 220.2,257.7 220.6,258.7 221.0,258.9 221.4,258.6 221.8,258.1 222.2,258.6 222.6,258.2 223.0,257.9 223.4,258.1 223.8,258.4 224.2,258.3 224.6,258.8 225.0,259.5 225.4,259.0 225.8,258.0 226.2,256.7 226.6,251.6 226.9,249.5 227.0,251.0 227.4,254.7 227.8,257.2 228.2,258.9 228.6,258.9 229.0,257.3 229.4,252.6 229.7,249.5 229.8,250.4 230.2,255.6 230.6,257.9 231.0,258.6 231.4,258.9 231.8,259.2 232.2,260.1 232.6,260.4 233.0,260.2 233.4,260.0 233.8,259.8 234.2,260.6 234.6,261.0 235.0,260.3 235.4,259.3 235.8,259.6 236.2,259.5 236.6,258.9 237.0,258.4 237.4,258.8 237.8,259.4 238.2,259.2 238.6,259.2 239.0,259.7 239.4,259.7 239.8,259.7 240.2,260.6 240.6,260.9 241.0,260.4 241.4,259.7 241.8,260.9 242.2,260.7 242.6,259.2 243.0,259.8 243.4,260.9 243.8,260.4 244.2,258.5 244.6,258.8 245.0,259.1 245.4,259.4 245.8,260.0 246.2,260.6 246.6,260.1 247.0,259.5 247.4,258.9 247.8,259.5 248.2,259.3 248.6,258.9 249.0,259.0 249.4,258.2 249.8,257.4 250.2,257.8 250.6,259.3 251.0,259.1 251.4,259.3 251.8,259.7 252.2,257.2 252.6,255.6 252.9,255.0 253.0,255.0 253.4,256.7 253.8,258.0 254.2,258.3 254.6,257.4 255.0,258.8 255.4,258.8 255.8,255.7 256.2,249.9 256.4,248.7 256.6,248.9 257.0,253.9 257.4,259.0 257.8,259.6 258.2,259.4 258.6,259.4 259.0,258.3 259.4,258.6 259.8,260.0 260.2,260.2 260.6,260.7 261.0,260.2 261.4,260.5 261.8,259.8 262.2,259.6 262.6,259.7 263.0,260.2 263.4,260.0 263.8,259.5 264.2,260.0 264.6,260.9 265.0,260.3 265.4,260.2 265.8,260.1 266.2,260.6 266.6,260.6 267.0,261.1 267.4,260.6 267.8,260.1 268.2,259.2 268.6,259.1 269.0,258.1 269.4,259.3 269.8,259.6 270.2,259.4 270.6,258.0 271.0,258.1 271.4,257.5 271.8,257.5 272.2,256.4 272.6,253.9 273.0,252.6 273.4,255.1 273.8,257.2 274.2,257.9 274.6,258.7 275.0,258.6 275.4,258.3 275.8,258.6 276.2,259.4 276.6,258.9 277.0,259.1 277.4,258.9 277.8,258.3 278.2,257.8 278.6,256.0 278.9,255.7 279.0,254.6 279.4,256.2 279.8,258.3 280.2,259.8 280.6,260.3 281.0,259.6 281.4,259.5 281.8,259.4 282.2,259.9 282.6,260.7 283.0,261.1 283.4,260.5 283.8,259.5 284.2,257.8 284.6,256.9 285.0,254.9 285.4,254.0 285.5,254.5 285.8,254.3 286.2,255.1 286.6,256.3 287.0,257.5 287.4,258.3 287.8,259.0 288.2,258.3 288.6,259.1 289.0,259.6 289.4,258.3 289.8,257.4 290.2,258.7 290.6,260.2 291.0,259.7 291.4,259.8 291.8,260.4 292.2,259.2 292.6,258.2 293.0,259.5 293.4,258.9 293.8,259.4 294.2,259.7 294.6,259.2 295.0,258.5 295.4,259.6 295.8,258.9 296.2,257.6 296.6,258.4 297.0,259.2 297.4,259.8 297.8,258.8 298.2,258.8 298.6,260.5 299.0,261.5 299.4,260.9 299.8,260.0 300.2,260.0 300.6,260.2 301.0,260.6 301.4,260.8 301.8,260.2 302.2,261.2 302.6,261.5 303.0,260.9 303.4,261.4 303.8,260.5 304.2,260.3 304.6,260.7 305.0,259.8 305.4,260.3 305.8,259.1 306.2,259.2 306.6,259.5 307.0,258.8 307.4,258.3 307.8,257.7 308.2,258.4 308.6,259.1 309.0,258.9 309.4,259.2 309.8,258.9 310.2,259.0 310.6,259.1 311.0,259.6 311.4,258.3 311.8,258.1 312.0,258.1 312.2,257.4 312.6,259.2 313.0,259.8 313.4,259.7 313.8,259.9 314.2,260.0 314.6,259.6 315.0,259.5 315.4,259.0 315.8,259.4 316.2,260.0 316.6,259.9 317.0,260.2 317.4,259.3 317.8,259.0 318.2,259.3 318.6,259.5 319.0,260.8 319.4,260.5 319.8,258.9 320.2,259.9 320.6,260.2 321.0,260.1 321.4,260.1 321.8,260.7 322.2,260.9 322.6,260.9 323.0,259.8 323.4,259.2 323.8,259.4 324.2,258.9 324.6,259.5 325.0,260.4 325.4,259.6 325.8,259.4 326.2,260.2 326.3,260.1 326.6,258.7 327.0,258.4 327.4,258.5 327.8,258.5 328.2,259.2 328.6,259.1 329.0,258.8 329.4,258.7 329.8,258.6 330.2,258.9 330.6,258.0 331.0,257.9 331.4,257.5 331.8,257.7 332.2,258.3 332.6,259.0 333.0,259.5 333.4,260.5 333.8,260.0 334.2,259.3 334.6,259.0 335.0,258.8 335.4,259.6 335.8,260.6 336.2,261.2 336.6,261.2 337.0,259.7 337.4,259.3 337.8,260.3 338.2,260.5 338.6,260.8 339.0,261.4 339.4,261.2 339.8,260.7" fill="none" stroke="#B46EE1" stroke-width="2" stroke-linejoin="round"/>
<polyline points="30.6,321.1 31.0,322.2 31.4,322.0 31.8,320.1 32.2,319.6 32.6,320.4 33.0,322.4 33.4,322.2 33.8,322.0 34.2,322.3 34.6,321.8 35.0,322.0 35.4,322.1 35.8,322.9 36.2,322.7 36.6,323.6 37.0,324.2 37.4,323.9 37.8,323.9 38.2,322.9 38.6,322.9 39.0,323.9 39.4,323.9 39.8,323.4 40.2,324.3 40.6,325.4 41.0,324.8 41.4,324.8 41.8,324.9 42.2,325.3 42.6,325.5 43.0,325.7 43.4,325.9 43.8,326.0 44.2,325.9 44.6,325.6 45.0,324.6 45.4,323.4 45.8,324.6 46.2,325.0 46.6,324.7 47.0,324.6 47.4,325.4 47.8,324.7 48.2,325.5 48.6,325.7 49.0,326.2 49.4,326.9 49.8,327.6 50.2,327.4 50.6,327.0 51.0,326.5 51.4,324.3 51.8,320.6 52.2,316.8 52.4,316.7 52.6,317.9 53.0,321.1 53.4,324.1 53.8,325.7 54.2,327.2 54.6,326.9 55.0,326.9 55.4,326.7 55.8,326.6 56.2,325.8 56.6,326.5 57.0,326.9 57.4,328.0 57.8,328.0 58.2,327.1 58.6,326.7 59.0,326.8 59.4,327.5 59.8,327.6 60.2,328.3 60.6,327.0 61.0,326.4 61.4,326.0 61.8,325.9 62.2,326.6 62.6,326.5 63.0,327.2 63.4,326.4 63.8,325.1 64.2,325.5 64.6,326.6 65.0,327.3 65.4,326.4 65.8,325.9 66.2,325.7 66.6,326.6 67.0,325.4 67.4,326.3 67.8,326.8 68.2,327.2 68.6,327.6 69.0,327.9 69.4,327.0 69.8,326.3 70.2,327.7 70.6,327.2 71.0,327.3 71.4,326.0 71.8,322.8 72.2,316.6 72.5,314.2 72.6,314.6 73.0,318.3 73.4,324.1 73.8,327.1 74.2,327.8 74.6,327.1 75.0,326.6 75.4,327.5 75.8,327.4 76.2,328.2 76.6,328.3 77.0,328.2 77.4,329.0 77.8,328.6 78.2,326.8 78.6,326.4 79.0,328.4 79.4,328.9 79.8,327.1 80.2,326.7 80.6,326.0 81.0,326.6 81.4,328.4 81.8,327.4 82.2,326.6 82.6,326.3 83.0,325.9 83.4,327.2 83.8,328.7 84.2,328.6 84.6,327.3 85.0,327.2 85.4,328.2 85.8,328.1 86.2,327.7 86.6,327.1 87.0,325.7 87.4,321.7 87.6,320.5 87.8,321.3 88.2,324.8 88.6,325.8 89.0,325.5 89.4,325.3 89.8,327.2 90.2,328.6 90.6,327.6 91.0,324.1 91.4,318.3 91.7,316.2 91.8,316.7 92.2,321.8 92.6,325.7 93.0,327.2 93.4,326.9 93.8,327.0 94.2,328.3 94.6,327.1 95.0,326.6 95.4,327.0 95.8,327.5 96.2,328.2 96.6,328.0 97.0,327.4 97.4,328.0 97.8,328.9 98.2,327.9 98.6,327.4 99.0,327.4 99.4,327.2 99.8,329.1 100.2,328.7 100.6,327.3 101.0,327.1 101.4,326.2 101.8,327.2 102.2,327.7 102.6,327.7 103.0,327.5 103.4,327.9 103.8,327.4 104.2,327.9 104.6,326.9 105.0,325.8 105.4,326.8 105.8,327.8 106.2,326.1 106.6,325.9 107.0,326.6 107.4,326.1 107.8,326.0 108.2,326.2 108.6,326.7 109.0,326.2 109.4,324.7 109.8,320.1 110.2,316.0 110.6,313.2 111.0,315.7 111.4,320.9 111.8,324.0 112.2,325.7 112.6,327.4 113.0,326.7 113.4,326.0 113.8,326.8 114.2,327.2 114.6,327.3 115.0,326.5 115.4,326.0 115.8,325.8 116.2,326.3 116.6,327.4 117.0,327.8 117.4,327.9 117.8,327.5 118.2,327.3 118.6,328.3 119.0,326.9 119.4,325.7 119.8,326.5 120.2,325.9 120.6,325.2 121.0,324.8 121.4,324.3 121.6,323.4 121.8,323.5 122.2,324.2 122.6,324.6 123.0,323.0 123.4,320.3 123.8,307.7 124.2,274.3 124.5,257.4 124.6,259.2 125.0,292.3 125.4,316.2 125.8,322.6 126.2,324.0 126.6,324.8 127.0,325.3 127.4,324.5 127.8,323.6 128.2,324.6 128.6,325.5 129.0,325.6 129.4,325.1 129.8,325.0 130.2,326.2 130.6,326.3 131.0,325.1 131.4,325.3 131.8,325.5 132.2,325.9 132.6,325.4 133.0,325.0 133.4,326.3 133.8,326.2 134.2,325.2 134.6,324.2 135.0,322.9 135.4,320.3 135.8,317.0 136.0,317.9 136.2,317.9 136.6,320.9 137.0,323.7 137.4,325.5 137.8,325.7 138.2,324.2 138.6,325.0 139.0,323.4 139.4,318.7 139.8,312.8 139.9,311.2 140.2,314.1 140.6,321.9 141.0,325.7 141.4,326.3 141.8,326.6 142.2,326.5 142.6,327.0 143.0,326.5 143.4,326.2 143.8,326.7 144.2,326.9 144.6,327.1 145.0,326.8 145.4,327.3 145.8,328.7 146.2,327.9 146.6,326.6 147.0,326.2 147.4,325.7 147.8,326.5 148.2,325.9 148.6,325.9 149.0,325.6 149.4,324.9 149.8,324.0 150.2,322.6 150.6,319.7 151.0,316.2 151.4,316.6 151.8,317.0 152.2,316.5 152.6,312.4 153.0,308.1 153.1,308.2 153.4,309.9 153.8,314.1 154.2,316.7 154.6,314.5 155.0,311.2 155.1,310.5 155.4,313.0 155.8,317.8 156.2,320.6 156.6,320.9 157.0,321.6 157.4,322.4 157.8,323.7 158.2,324.3 158.6,324.7 159.0,325.2 159.4,326.5 159.8,327.1 160.2,326.2 160.6,323.7 161.0,322.1 161.4,321.2 161.8,322.5 162.2,325.4 162.6,327.5 163.0,328.0 163.4,328.5 163.8,329.1 164.2,328.8 164.6,328.3 165.0,328.2 165.4,328.4 165.8,328.6 166.2,328.4 166.6,328.1 167.0,327.0 167.4,326.1 167.8,325.9 167.9,325.4 168.2,325.5 168.6,327.0 169.0,328.2 169.4,328.7 169.8,329.8 170.2,329.0 170.6,328.7 171.0,330.2 171.4,329.3 171.8,329.7 172.2,329.2 172.6,327.9 173.0,325.9 173.4,324.1 173.8,323.0 174.2,324.8 174.6,326.6 175.0,328.3 175.4,329.7 175.8,328.0 176.2,327.0 176.6,326.8 177.0,326.7 177.3,326.7 177.4,326.0 177.8,327.2 178.2,327.9 178.6,328.3 179.0,327.7 179.4,328.2 179.8,329.7 180.2,330.0 180.6,329.0 181.0,326.9 181.4,324.4 181.5,324.8 181.8,325.4 182.2,327.2 182.6,328.6 183.0,330.0 183.4,330.9 183.8,330.7 184.2,330.5 184.6,330.9 185.0,330.4 185.4,330.6 185.8,330.3 186.2,330.9 186.6,331.6 187.0,331.2 187.4,330.6 187.8,331.1 188.2,331.8 188.6,332.3 189.0,332.9 189.4,331.9 189.8,330.7 190.2,329.4 190.6,329.5 191.0,329.8 191.4,331.0 191.8,330.1 192.2,329.2 192.6,329.9 193.0,330.3 193.4,330.7 193.8,330.8 194.2,330.7 194.6,330.5 195.0,330.1 195.4,328.6 195.8,327.6 196.2,325.8 196.6,321.5 197.0,317.8 197.1,318.9 197.4,320.3 197.8,324.5 198.2,328.8 198.6,330.5 199.0,330.2 199.4,331.3 199.8,331.6 200.2,331.8 200.6,331.5 201.0,330.7 201.4,331.8 201.8,332.1 202.2,331.8 202.6,330.7 203.0,330.8 203.4,329.8 203.8,329.2 204.2,329.8 204.3,329.3 204.6,329.9 205.0,330.9 205.4,331.9 205.8,331.7 206.2,332.2 206.6,331.9 207.0,330.1 207.4,330.8 207.8,331.2 208.2,332.5 208.6,332.3 209.0,331.7 209.4,331.7 209.8,331.2 210.2,330.8 210.6,332.0 211.0,332.5 211.4,332.0 211.8,331.5 212.2,330.5 212.6,329.6 213.0,328.7 213.4,326.4 213.8,325.6 214.2,326.3 214.6,327.8 215.0,329.9 215.4,330.5 215.8,331.0 216.2,331.8 216.6,330.6 217.0,329.9 217.4,330.2 217.8,331.2 218.2,331.8 218.6,331.0 219.0,329.8 219.4,329.5 219.8,330.7 220.2,332.0 220.6,331.5 221.0,330.7 221.4,331.0 221.8,330.8 222.2,331.1 222.6,331.9 223.0,332.1 223.4,331.6 223.8,331.0 224.2,331.5 224.6,331.3 225.0,330.7 225.4,330.5 225.8,330.6 226.2,329.3 226.6,324.5 226.9,321.1 227.0,322.9 227.4,328.2 227.8,330.0 228.2,331.5 228.6,331.6 229.0,330.4 229.4,328.2 229.7,325.9 229.8,326.2 230.2,329.3 230.6,331.9 231.0,333.5 231.4,334.5 231.8,333.3 232.2,333.6 232.6,334.1 233.0,333.3 233.4,333.4 233.8,333.7 234.2,332.7 234.6,333.0 235.0,332.4 235.4,332.3 235.8,332.6 236.2,333.1 236.6,331.4 237.0,330.3 237.4,330.9 237.8,331.1 238.2,332.0 238.6,332.6 239.0,332.1 239.4,330.8 239.8,330.8 240.2,331.8 240.6,331.1 241.0,331.2 241.4,332.9 241.8,332.5 242.2,332.5 242.6,332.6 243.0,332.4 243.4,332.2 243.8,332.0 244.2,331.4 244.6,331.3 245.0,331.2 245.4,331.7 245.8,331.5 246.2,331.4 246.6,331.9 247.0,332.6 247.4,332.7 247.8,332.4 248.2,332.2 248.6,332.8 249.0,331.9 249.4,332.1 249.8,333.3 250.2,332.6 250.6,333.1 251.0,333.3 251.4,332.9 251.8,332.3 252.2,331.0 252.6,329.0 252.9,327.9 253.0,327.9 253.4,330.5 253.8,332.5 254.2,332.2 254.6,333.0 255.0,333.5 255.4,333.6 255.8,332.0 256.2,329.0 256.4,327.6 256.6,328.3 257.0,330.5 257.4,331.7 257.8,332.6 258.2,332.6 258.6,333.4 259.0,333.0 259.4,332.1 259.8,333.0 260.2,332.7 260.6,331.7 261.0,330.2 261.4,330.6 261.8,330.8 262.2,330.6 262.6,330.3 263.0,330.6 263.4,331.8 263.8,330.8 264.2,329.6 264.6,330.2 265.0,330.7 265.4,331.1 265.8,331.4 266.2,331.4 266.6,331.2 267.0,332.2 267.4,333.5 267.8,331.5 268.2,330.8 268.6,332.2 269.0,331.9 269.4,331.4 269.8,331.6 270.2,332.7 270.6,332.4 271.0,333.8 271.4,334.1 271.8,333.0 272.2,331.8 272.6,331.3 273.0,328.7 273.4,329.1 273.8,330.3 274.2,331.7 274.6,332.3 275.0,332.5 275.4,332.1 275.8,332.1 276.2,331.8 276.6,331.6 277.0,331.4 277.4,332.1 277.8,331.8 278.2,330.4 278.6,329.3 278.9,329.1 279.0,330.8 279.4,332.3 279.8,332.6 280.2,333.3 280.6,333.0 281.0,332.3 281.4,331.9 281.8,332.4 282.2,331.9 282.6,332.5 283.0,332.9 283.4,332.1 283.8,331.4 284.2,331.1 284.6,330.4 285.0,328.5 285.4,327.8 285.5,327.9 285.8,327.3 286.2,329.4 286.6,330.7 287.0,330.9 287.4,330.8 287.8,330.7 288.2,330.9 288.6,329.9 289.0,329.4 289.4,330.3 289.8,331.2 290.2,331.2 290.6,331.2 291.0,331.9 291.4,332.5 291.8,332.0 292.2,332.5 292.6,332.5 293.0,332.2 293.4,333.0 293.8,333.1 294.2,334.0 294.6,332.9 295.0,333.2 295.4,334.6 295.8,334.2 296.2,332.7 296.6,331.9 297.0,333.2 297.4,332.7 297.8,333.2 298.2,333.2 298.6,333.1 299.0,332.7 299.4,332.4 299.8,332.4 300.2,332.3 300.6,331.9 301.0,332.3 301.4,332.8 301.8,332.1 302.2,333.3 302.6,334.2 303.0,335.2 303.4,334.3 303.8,333.5 304.2,333.2 304.6,332.2 305.0,332.9 305.4,333.0 305.8,333.7 306.2,333.0 306.6,332.6 307.0,331.9 307.4,332.1 307.8,332.4 308.2,333.2 308.6,333.3 309.0,332.1 309.4,331.0 309.8,331.2 310.2,332.7 310.6,332.8 311.0,331.8 311.4,329.8 311.8,326.8 312.0,326.4 312.2,327.6 312.6,330.0 313.0,331.2 313.4,331.6 313.8,331.7 314.2,332.9 314.6,332.7 315.0,332.5 315.4,332.2 315.8,332.6 316.2,333.3 316.6,333.1 317.0,333.1 317.4,333.5 317.8,332.9 318.2,332.2 318.6,332.5 319.0,332.1 319.4,332.9 319.8,333.0 320.2,333.1 320.6,332.9 321.0,332.4 321.4,332.2 321.8,333.4 322.2,332.6 322.6,332.2 323.0,332.9 323.4,332.9 323.8,332.4 324.2,332.3 324.6,333.0 325.0,333.1 325.4,331.7 325.8,331.0 326.1,331.2 326.2,330.3 326.6,329.8 327.0,330.4 327.4,331.5 327.8,331.8 328.2,331.4 328.6,332.5 329.0,332.8 329.4,332.3 329.8,333.3 330.2,334.6 330.6,332.8 331.0,331.4 331.4,331.6 331.8,331.7 332.2,331.8 332.6,332.1 333.0,332.2 333.4,332.1 333.8,332.7 334.2,332.6 334.6,331.9 335.0,330.3 335.4,330.9 335.6,331.4 335.8,330.3 336.2,330.6 336.6,331.7 337.0,332.4 337.4,331.3 337.8,332.2 338.2,332.0 338.6,333.1 339.0,333.0 339.4,332.3 339.8,331.8" fill="none" stroke="#F5464B" stroke-width="2" stroke-linejoin="round"/>
<rect x="30.5" y="4.1" width="309.7" height="339.3" fill="none" stroke="#000" stroke-width="1.8"/>
<line x1="30.5" y1="343.4" x2="30.5" y2="350.8" stroke="#000" stroke-width="1.6"/>
<line x1="58.7" y1="343.4" x2="58.7" y2="348.0" stroke="#000" stroke-width="1.6"/>
<line x1="86.8" y1="343.4" x2="86.8" y2="350.8" stroke="#000" stroke-width="1.6"/>
<line x1="115.0" y1="343.4" x2="115.0" y2="348.0" stroke="#000" stroke-width="1.6"/>
<line x1="143.1" y1="343.4" x2="143.1" y2="350.8" stroke="#000" stroke-width="1.6"/>
<line x1="171.3" y1="343.4" x2="171.3" y2="348.0" stroke="#000" stroke-width="1.6"/>
<line x1="199.4" y1="343.4" x2="199.4" y2="350.8" stroke="#000" stroke-width="1.6"/>
<line x1="227.6" y1="343.4" x2="227.6" y2="348.0" stroke="#000" stroke-width="1.6"/>
<line x1="255.7" y1="343.4" x2="255.7" y2="350.8" stroke="#000" stroke-width="1.6"/>
<line x1="283.9" y1="343.4" x2="283.9" y2="348.0" stroke="#000" stroke-width="1.6"/>
<line x1="312.1" y1="343.4" x2="312.1" y2="350.8" stroke="#000" stroke-width="1.6"/>
<line x1="340.2" y1="343.4" x2="340.2" y2="348.0" stroke="#000" stroke-width="1.6"/>
<text class="tk" transform="translate(30.5 363.2) scale(1.12 1)">10</text>
<text class="tk" transform="translate(86.8 363.2) scale(1.12 1)">20</text>
<text class="tk" transform="translate(143.1 363.2) scale(1.12 1)">30</text>
<text class="tk" transform="translate(199.4 363.2) scale(1.12 1)">40</text>
<text class="tk" transform="translate(255.7 363.2) scale(1.12 1)">50</text>
<text class="tk" transform="translate(312.1 363.2) scale(1.12 1)">60</text>
<text class="b" transform="translate(193.9 376.2) scale(1.07 1)" font-size="14.5px" text-anchor="middle">2θ(°)</text>
<text class="b" transform="translate(19.9,170.8) rotate(-90) scale(1 1.07)" font-size="18.5px" text-anchor="middle">Intensity(a.u.)</text>
<text class="b" transform="translate(39.9 27.1) scale(1.09 1)" font-size="18.7px">(a)</text>
<text class="an" style="text-anchor:end" transform="translate(253.6 18.8) scale(1.15 1)">An:hard gypsum</text>
<text class="an" style="text-anchor:end" transform="translate(320.5 18.8) scale(1.147 1)">K:katoite</text>
<text class="an" transform="translate(233.9 36) scale(1.147 1)">Q:quartz  C0:calcium carbonate</text>
<text class="an" transform="translate(234.6 53.5) scale(1.147 1)">T:tobermorite  M:mullite</text>
<line x1="274.5" y1="64.7" x2="311.8" y2="64.7" stroke="#5B9BD5" stroke-width="1.5"/>
<text class="lg" transform="translate(315.7 69.1) scale(1.12 1)">E6</text>
<line x1="274.5" y1="148.2" x2="311.8" y2="148.2" stroke="#7F4446" stroke-width="1.5"/>
<text class="lg" transform="translate(315.7 152.8) scale(1.12 1)">E2</text>
<line x1="274.5" y1="232" x2="311.8" y2="232" stroke="#B46EE1" stroke-width="1.5"/>
<text class="lg" transform="translate(315.7 236.7) scale(1.12 1)">E5</text>
<line x1="274.5" y1="316" x2="311.8" y2="316" stroke="#F5464B" stroke-width="1.5"/>
<text class="lg" transform="translate(315.7 320.7) scale(1.12 1)">E4</text>
<text class="pk" x="119.3" y="18.5" textLength="11.45" lengthAdjust="spacingAndGlyphs">Q</text>
<text class="pk" x="67.3" y="89.2" textLength="11.45" lengthAdjust="spacingAndGlyphs">K</text>
<text class="pk" x="76.6" y="100.9" textLength="11.45" lengthAdjust="spacingAndGlyphs">K</text>
<text class="pk" x="87.2" y="91.5" textLength="19.6" lengthAdjust="spacingAndGlyphs">An</text>
<text class="pk" x="128.5" y="87.6" textLength="18.9" lengthAdjust="spacingAndGlyphs">C0</text>
<text class="pk" x="149.1" y="85.7" textLength="9.7" lengthAdjust="spacingAndGlyphs">T</text>
<text class="pk" x="157.3" y="91.5" textLength="9.7" lengthAdjust="spacingAndGlyphs">T</text>
<text class="pk" x="167.8" y="92.2" textLength="14.1" lengthAdjust="spacingAndGlyphs">M</text>
<text class="pk" x="189.4" y="93.9" textLength="11.45" lengthAdjust="spacingAndGlyphs">Q</text>
<text class="pk" x="119.5" y="118" textLength="11.45" lengthAdjust="spacingAndGlyphs">Q</text>
<text class="pk" x="69.6" y="157.3" textLength="11.45" lengthAdjust="spacingAndGlyphs">K</text>
<text class="pk" x="80.1" y="170.3" textLength="11.45" lengthAdjust="spacingAndGlyphs">K</text>
<text class="pk" x="90.2" y="162" textLength="19.6" lengthAdjust="spacingAndGlyphs">An</text>
<text class="pk" x="131.1" y="160.1" textLength="18.9" lengthAdjust="spacingAndGlyphs">C0</text>
<text class="pk" x="152.4" y="154.2" textLength="9.7" lengthAdjust="spacingAndGlyphs">T</text>
<text class="pk" x="161.9" y="169.1" textLength="9.7" lengthAdjust="spacingAndGlyphs">T</text>
<text class="pk" x="169.4" y="173.8" textLength="14.1" lengthAdjust="spacingAndGlyphs">M</text>
<text class="pk" x="191.9" y="167.2" textLength="11.45" lengthAdjust="spacingAndGlyphs">Q</text>
<text class="pk" x="251.7" y="173.8" textLength="11.45" lengthAdjust="spacingAndGlyphs">Q</text>
<text class="pk" x="118.6" y="190.4" textLength="11.45" lengthAdjust="spacingAndGlyphs">Q</text>
<text class="pk" x="46.5" y="242.2" textLength="19.6" lengthAdjust="spacingAndGlyphs">An</text>
<text class="pk" x="66.6" y="236.5" textLength="11.45" lengthAdjust="spacingAndGlyphs">K</text>
<text class="pk" x="77.7" y="248.8" textLength="11.45" lengthAdjust="spacingAndGlyphs">K</text>
<text class="pk" x="87.9" y="244.1" textLength="19.6" lengthAdjust="spacingAndGlyphs">An</text>
<text class="pk" x="106.1" y="241.3" textLength="11.45" lengthAdjust="spacingAndGlyphs">Q</text>
<text class="pk" x="129.7" y="239.8" textLength="18.9" lengthAdjust="spacingAndGlyphs">C0</text>
<text class="pk" x="151.0" y="233.5" textLength="9.7" lengthAdjust="spacingAndGlyphs">T</text>
<text class="pk" x="157.2" y="244.6" textLength="9.7" lengthAdjust="spacingAndGlyphs">T</text>
<text class="pk" x="165.9" y="246.9" textLength="14.1" lengthAdjust="spacingAndGlyphs">M</text>
<text class="pk" x="192.6" y="242.9" textLength="11.45" lengthAdjust="spacingAndGlyphs">Q</text>
<text class="pk" x="252.2" y="243.6" textLength="11.45" lengthAdjust="spacingAndGlyphs">Q</text>
<text class="pk" x="45.3" y="309.8" textLength="19.6" lengthAdjust="spacingAndGlyphs">An</text>
<text class="pk" x="69.0" y="308.2" textLength="11.45" lengthAdjust="spacingAndGlyphs">K</text>
<text class="pk" x="80.8" y="320" textLength="11.45" lengthAdjust="spacingAndGlyphs">K</text>
<text class="pk" x="89.5" y="316" textLength="19.6" lengthAdjust="spacingAndGlyphs">An</text>
<text class="pk" x="105.6" y="305.8" textLength="11.45" lengthAdjust="spacingAndGlyphs">Q</text>
<text class="pk" x="129.7" y="311.7" textLength="18.9" lengthAdjust="spacingAndGlyphs">C0</text>
<text class="pk" x="149.3" y="301.1" textLength="9.7" lengthAdjust="spacingAndGlyphs">T</text>
<text class="pk" x="160.0" y="317.6" textLength="9.7" lengthAdjust="spacingAndGlyphs">T</text>
<text class="pk" x="168.3" y="320" textLength="14.1" lengthAdjust="spacingAndGlyphs">M</text>
<text class="pk" x="194.2" y="313.6" textLength="11.45" lengthAdjust="spacingAndGlyphs">Q</text>
<text class="pk" x="253.8" y="321.7" textLength="11.45" lengthAdjust="spacingAndGlyphs">Q</text>
<rect x="404.2" y="167.8" width="50.2" height="168.1" fill="#5873FB" stroke="#000" stroke-width="1.6"/>
<path d="M429.3 159.8V175.8M423.3 159.8h12M423.3 175.8h12" stroke="#000" stroke-width="1.6" fill="none"/>
<line x1="429.3" y1="335.9" x2="429.3" y2="342.2" stroke="#000" stroke-width="1.6"/>
<text class="cat" x="429.3" y="354.7">E4</text><text class="cat" x="429.3" y="365.4">5</text>
<rect x="475.7" y="207.8" width="50.2" height="128.1" fill="#5873FB" stroke="#000" stroke-width="1.6"/>
<path d="M500.8 202.5V213.1M494.8 202.5h12M494.8 213.1h12" stroke="#000" stroke-width="1.6" fill="none"/>
<line x1="500.8" y1="335.9" x2="500.8" y2="342.2" stroke="#000" stroke-width="1.6"/>
<text class="cat" x="500.8" y="354.7">E5</text><text class="cat" x="500.8" y="365.4">10</text>
<rect x="547.2" y="157.1" width="50.2" height="178.8" fill="#5873FB" stroke="#000" stroke-width="1.6"/>
<path d="M572.3 149.1V165.1M566.3 149.1h12M566.3 165.1h12" stroke="#000" stroke-width="1.6" fill="none"/>
<line x1="572.3" y1="335.9" x2="572.3" y2="342.2" stroke="#000" stroke-width="1.6"/>
<text class="cat" x="572.3" y="354.7">E2</text><text class="cat" x="572.3" y="365.4">20</text>
<rect x="618.7" y="199.8" width="50.2" height="136.1" fill="#5873FB" stroke="#000" stroke-width="1.6"/>
<path d="M643.8 189.1V210.5M637.8 189.1h12M637.8 210.5h12" stroke="#000" stroke-width="1.6" fill="none"/>
<line x1="643.8" y1="335.9" x2="643.8" y2="342.2" stroke="#000" stroke-width="1.6"/>
<text class="cat" x="643.8" y="354.7">E6</text><text class="cat" x="643.8" y="365.4">30</text>
<rect x="393.6" y="122.4" width="285.9" height="213.5" fill="none" stroke="#000" stroke-width="1.6"/>
<line x1="393.6" y1="335.9" x2="386.4" y2="335.9" stroke="#000" stroke-width="1.6"/>
<text class="tkb" x="381.6" y="340.8">0.0</text>
<line x1="393.6" y1="309.2" x2="389.4" y2="309.2" stroke="#000" stroke-width="1.6"/>
<line x1="393.6" y1="282.5" x2="386.4" y2="282.5" stroke="#000" stroke-width="1.6"/>
<text class="tkb" x="381.6" y="287.4">0.2</text>
<line x1="393.6" y1="255.8" x2="389.4" y2="255.8" stroke="#000" stroke-width="1.6"/>
<line x1="393.6" y1="229.1" x2="386.4" y2="229.1" stroke="#000" stroke-width="1.6"/>
<text class="tkb" x="381.6" y="234.0">0.4</text>
<line x1="393.6" y1="202.5" x2="389.4" y2="202.5" stroke="#000" stroke-width="1.6"/>
<line x1="393.6" y1="175.8" x2="386.4" y2="175.8" stroke="#000" stroke-width="1.6"/>
<text class="tkb" x="381.6" y="180.7">0.6</text>
<line x1="393.6" y1="149.1" x2="389.4" y2="149.1" stroke="#000" stroke-width="1.6"/>
<line x1="393.6" y1="122.4" x2="386.4" y2="122.4" stroke="#000" stroke-width="1.6"/>
<text class="tkb" x="381.6" y="127.3">0.8</text>
<text class="b" x="399.8" y="139.9" font-size="18.5px">(b)</text>
<text class="b" transform="translate(361.4,220.5) rotate(-90)" font-size="14px" text-anchor="middle">CEC(meq/g)</text>
<text class="b" x="533.5" y="375" font-size="16.05px" text-anchor="middle">Dosage of kaolin (wt.%)</text>
</svg>
</body></html>
